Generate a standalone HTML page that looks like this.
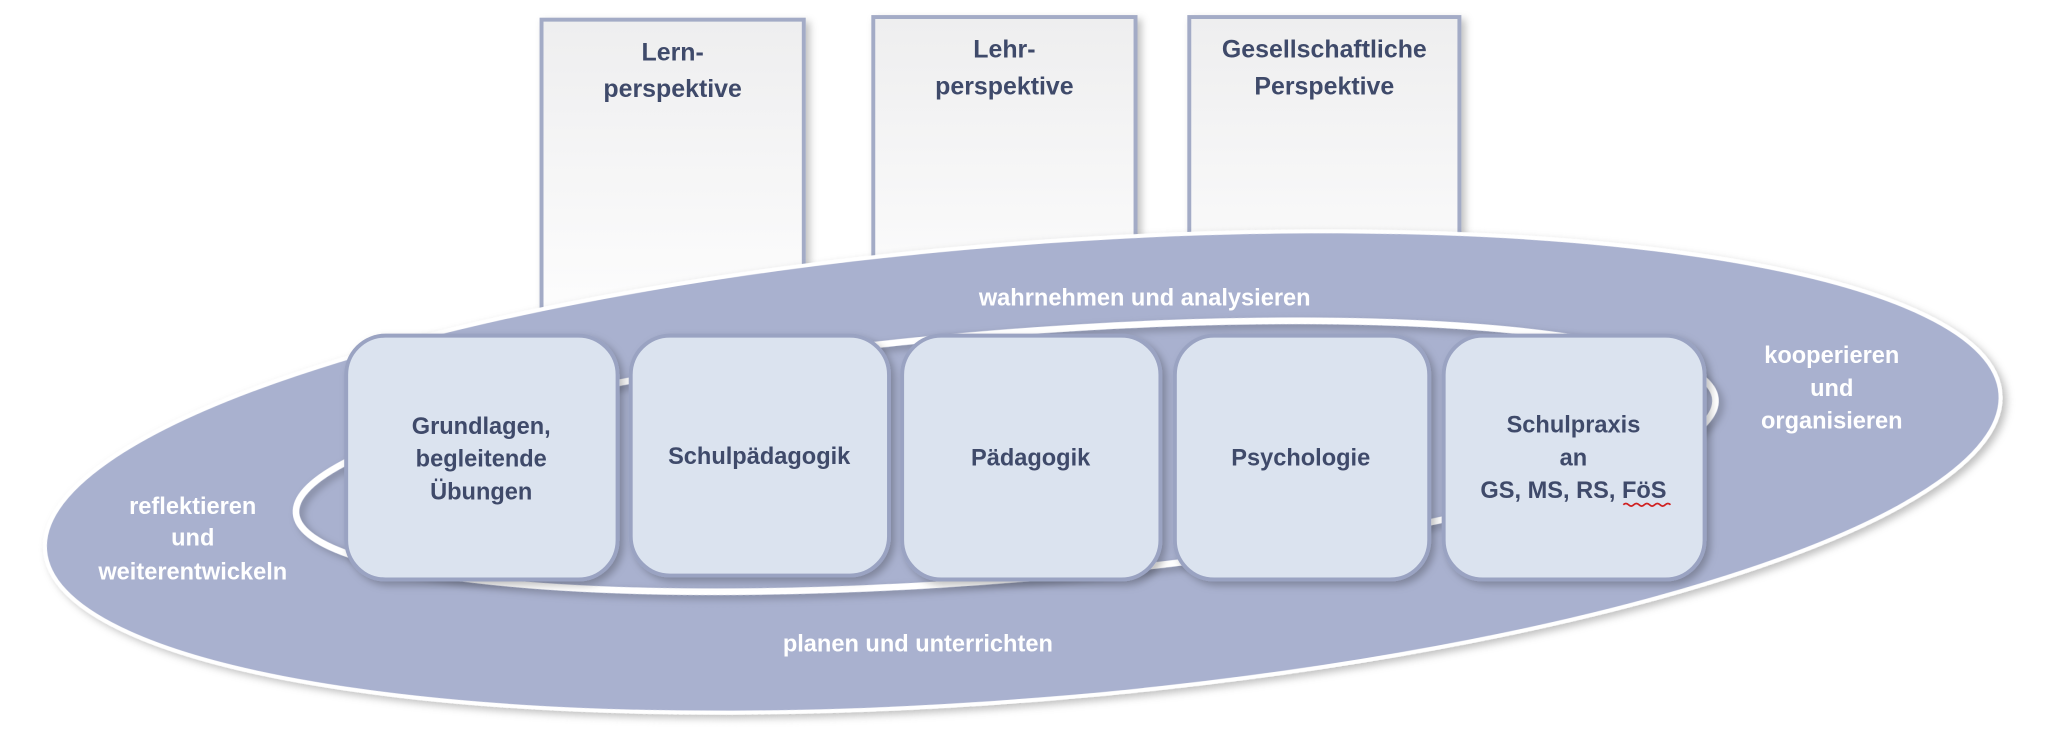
<!DOCTYPE html>
<html><head><meta charset="utf-8"><style>html,body{margin:0;padding:0;background:#fff}svg{display:block}</style></head><body>
<svg width="2056" height="748" viewBox="0 0 1568 570.5" preserveAspectRatio="none" xmlns="http://www.w3.org/2000/svg" font-family="'Liberation Sans', sans-serif" font-weight="bold">
<defs>
<linearGradient id="pg" x1="0" y1="0" x2="0" y2="1"><stop offset="0" stop-color="#eeeeef"/><stop offset="1" stop-color="#ffffff"/></linearGradient>
<filter id="sh" x="-10%" y="-10%" width="130%" height="130%"><feDropShadow dx="3" dy="3" stdDeviation="3" flood-color="#000" flood-opacity="0.25"/></filter>
</defs>
<g fill="url(#pg)" stroke="#a3abc6" stroke-width="3" filter="url(#sh)">
<rect x="413" y="15" width="200" height="260"/>
<rect x="666" y="13" width="200" height="260"/>
<rect x="907" y="13" width="206" height="260"/>
</g>
<g fill="#3f4a6a" font-size="19" text-anchor="middle">
<text x="513" y="46">Lern-</text><text x="513" y="74">perspektive</text>
<text x="766" y="44">Lehr-</text><text x="766" y="72">perspektive</text>
<text x="1010" y="44">Gesellschaftliche</text><text x="1010" y="72">Perspektive</text>
</g>
<ellipse cx="780" cy="360" rx="748" ry="174" transform="rotate(-4.6 780 360)" fill="#a9b1cf" stroke="#ffffff" stroke-width="3" filter="url(#sh)"/>
<ellipse cx="767" cy="348" rx="543" ry="94" transform="rotate(-4.6 767 348)" fill="none" stroke="#ffffff" stroke-width="5" filter="url(#sh)"/>
<g fill="#dbe3ef" stroke="#9aa3c2" stroke-width="3" filter="url(#sh)">
<rect x="264" y="256" width="207" height="186" rx="30"/>
<rect x="481" y="256" width="197" height="183" rx="30"/>
<rect x="688" y="256" width="197" height="186" rx="30"/>
<rect x="896" y="256" width="194" height="186" rx="30"/>
<rect x="1101" y="256" width="199" height="186" rx="30"/>
</g>
<g fill="#3f4a6a" font-size="18" text-anchor="middle">
<text x="367" y="331">Grundlagen,</text><text x="367" y="356">begleitende</text><text x="367" y="381">Übungen</text>
<text x="579" y="354">Schulpädagogik</text>
<text x="786" y="355">Pädagogik</text>
<text x="992" y="355">Psychologie</text>
<text x="1200" y="330">Schulpraxis</text><text x="1200" y="355">an</text><text x="1200" y="380">GS, MS, RS, FöS</text>
</g>
<path d="M1238 385 q2 -2 4 0 t4 0 t4 0 t4 0 t4 0 t4 0 t4 0 t4 0 t4 0" stroke="#d02020" stroke-width="1.3" fill="none"/>
<g fill="#ffffff" font-size="18" text-anchor="middle">
<text x="873" y="233">wahrnehmen und analysieren</text>
<text x="1397" y="277">kooperieren</text><text x="1397" y="302">und</text><text x="1397" y="327">organisieren</text>
<text x="147" y="392">reflektieren</text><text x="147" y="416">und</text><text x="147" y="442">weiterentwickeln</text>
<text x="700" y="497">planen und unterrichten</text>
</g>
</svg>
</body></html>
